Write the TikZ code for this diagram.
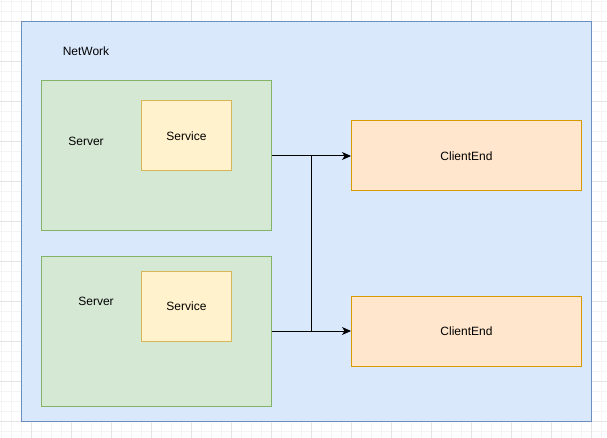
\documentclass[tikz,border=0pt]{standalone}
\usepackage{fontspec}
\setmainfont{Liberation Sans}
\usetikzlibrary{arrows.meta}

\definecolor{netfill}{HTML}{DAE8FC}\definecolor{netline}{HTML}{6C8EBF}
\definecolor{srvfill}{HTML}{D5E8D4}\definecolor{srvline}{HTML}{82B366}
\definecolor{svcfill}{HTML}{FFF2CC}\definecolor{svcline}{HTML}{D6B656}
\definecolor{clifill}{HTML}{FFE6CC}\definecolor{cliline}{HTML}{D79B00}
\definecolor{gridlo}{HTML}{F4F4F4}\definecolor{gridhi}{HTML}{E4E4E4}

\tikzset{
  netbox/.style={draw=netline,fill=netfill,minimum width=570,minimum height=400},
  srvbox/.style={draw=srvline,fill=srvfill,minimum width=230,minimum height=150},
  svcbox/.style={draw=svcline,fill=svcfill,minimum width=90,minimum height=70},
  clibox/.style={draw=cliline,fill=clifill,minimum width=230,minimum height=70},
  conn/.style={draw=black,-{Stealth[length=9pt,width=8pt,inset=2.5pt]}}
}

\begin{document}
\begin{tikzpicture}[x=1pt,y=-1pt,line width=1pt,font=\fontsize{12}{14}\selectfont]
\useasboundingbox[fill=white] (0,0) rectangle (607,438);
\begin{scope}[shift={(1.7,1.5)}]
  \draw[gridlo,step=10pt] (-10,-10) grid (610,440);
\end{scope}
\begin{scope}[shift={(31.7,21.5)}]
  \draw[gridhi,step=40pt] (-40,-40) grid (580,420);
\end{scope}

\node[netbox] (net) at (306.5,221.5) {};
\node (netlbl) at (86,51) {NetWork};

\node[srvbox] (srv1) at (156,156) {};
\node (srvlbl1) at (86,141) {Server};
\node[svcbox] (svc1) at (186.5,136) {Service};

\node[srvbox] (srv2) at (156,331) {};
\node (srvlbl2) at (96,301) {Server};
\node[svcbox] (svc2) at (186.5,306) {Service};

\node[clibox] (cli1) at (466.5,156) {ClientEnd};
\node[clibox] (cli2) at (466.5,331) {ClientEnd};

\draw[conn] (srv1.east) -- ++(40,0) |- (cli2.west);
\draw[conn] (srv2.east) -- ++(40,0) |- (cli1.west);
\end{tikzpicture}
\end{document}
